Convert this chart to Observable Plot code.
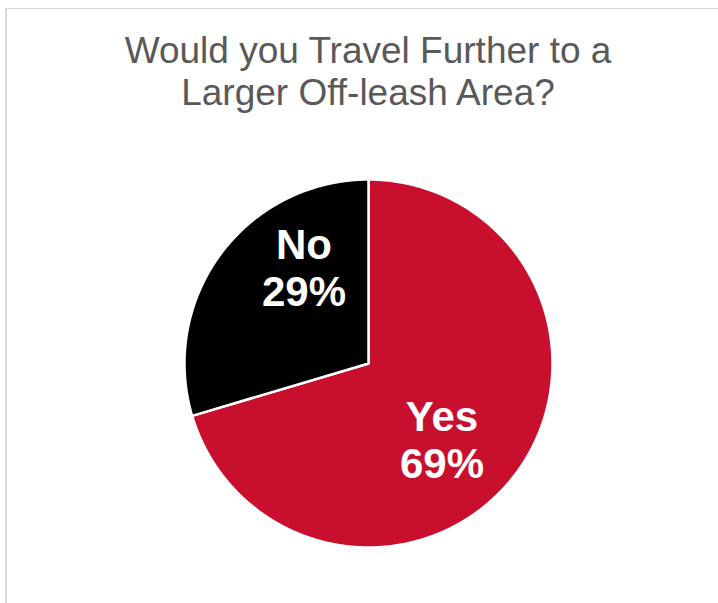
<!DOCTYPE html>
<html>
<head>
<meta charset="utf-8">
<script src="https://cdn.jsdelivr.net/npm/d3@7"></script>
<script src="https://cdn.jsdelivr.net/npm/@observablehq/plot@0.6"></script>
<style>
  html, body { margin: 0; padding: 0; background: #fff; overflow: hidden; }
  body { width: 718px; height: 603px; position: relative; font-family: "Liberation Sans", Arial, sans-serif; }
  #frame { position: absolute; left: 5px; top: 8px; width: 800px; height: 700px;
           border-top: 1px solid #d9d9d9; border-left: 2px solid #d9d9d9; pointer-events: none; }
  #title { width: 718px; box-sizing: border-box; padding: 30px 0 0 18px; margin: 0;
           text-align: center; font-size: 37px; line-height: 42px; color: #595959; font-weight: normal; }
  #chart svg { display: block; }
</style>
</head>
<body>
<div id="frame"></div>
<div id="title">Would you Travel Further to a<br>Larger Off-leash Area?</div>
<div id="chart"></div>
<script>
const categories = ["Yes", "No"];
const values = [69, 29];
const colors = ["#c8102e", "#000000"];

const data = categories.map((c, i) => ({key: c, value: values[i]}));
const arcs = d3.pie().sort(null).value(d => d.value)(data);

// polygon outline of each slice (center + sampled arc)
const points = [];
for (const a of arcs) {
  points.push({key: a.data.key, x: 0, y: 0});
  const n = Math.max(2, Math.ceil((a.endAngle - a.startAngle) / (Math.PI / 720)));
  for (let k = 0; k <= n; k++) {
    const t = a.startAngle + (a.endAngle - a.startAngle) * k / n;
    points.push({key: a.data.key, x: Math.sin(t), y: -Math.cos(t)});
  }
}

// label anchors at 60% of the radius, mid-angle
const labelR = 0.6;
const labelData = arcs.map(a => {
  const m = (a.startAngle + a.endAngle) / 2;
  return {key: a.data.key, x: labelR * Math.sin(m), y: -labelR * Math.cos(m),
          text: `${a.data.key}\n${a.data.value}%`};
});

const H = 489;
const cx = 368, cy = 249, R = 184;

const textStyle = {x: "x", y: "y", text: "text", fill: "white", fontSize: 42, fontWeight: "bold",
  fontFamily: "'Liberation Sans', Arial, sans-serif", lineHeight: 1.13};

const chart = Plot.plot({
  width: 718,
  height: H,
  margin: 0,
  style: {background: "transparent"},
  x: {domain: [-1, 1], range: [cx - R, cx + R], axis: null},
  y: {domain: [-1, 1], range: [cy - R, cy + R], axis: null},
  color: {domain: categories, range: colors},
  marks: [
    Plot.line(points, {x: "x", y: "y", z: "key", fill: "key", stroke: "white", strokeWidth: 2.5,
      strokeLinejoin: "round", curve: "linear-closed"}),
    Plot.text(labelData.filter(d => d.key === "No"), {...textStyle, dx: 24, dy: -30}),
    Plot.text(labelData.filter(d => d.key === "Yes"), {...textStyle, dx: -15, dy: 10})
  ]
});
document.getElementById("chart").appendChild(chart);
</script>
</body>
</html>
